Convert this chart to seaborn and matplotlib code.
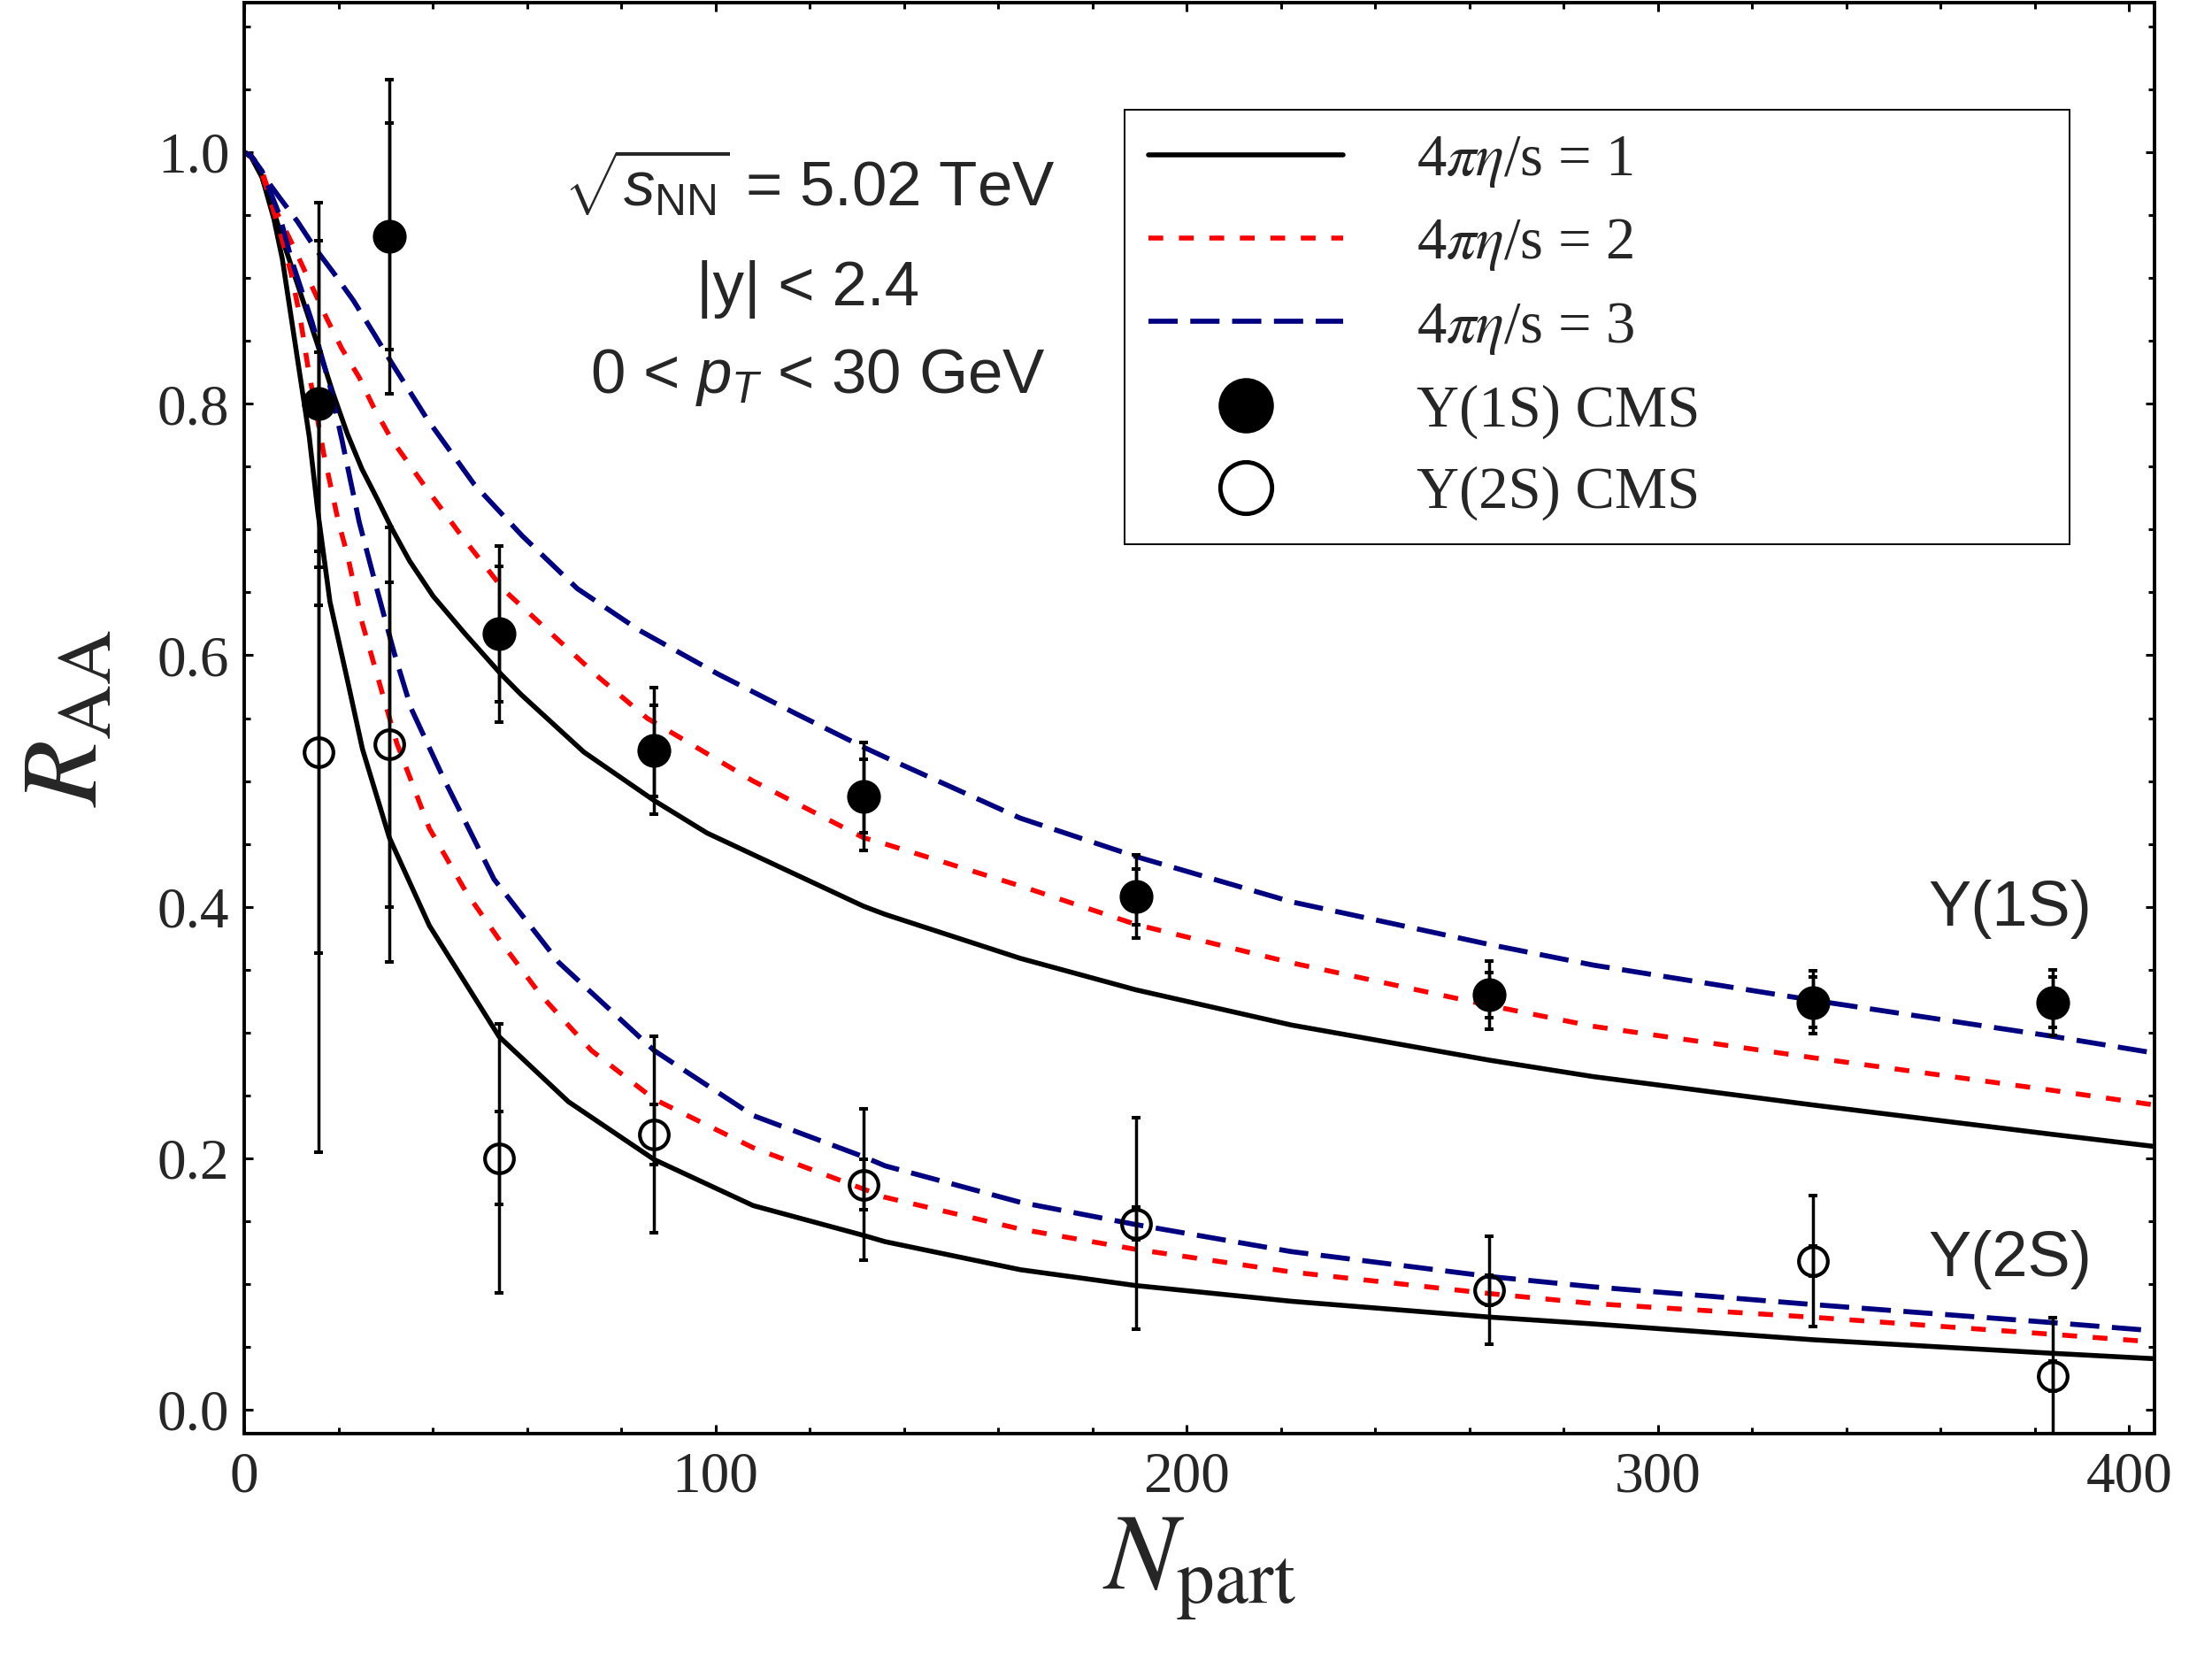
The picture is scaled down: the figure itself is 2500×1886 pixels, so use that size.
import numpy as np
import pandas as pd
import matplotlib
matplotlib.use("Agg")
import matplotlib.pyplot as plt
from matplotlib.lines import Line2D
import seaborn as sns

# data
npart = [15.8, 30.8, 54.1, 87.0, 131.5, 189.2, 264.2, 332.9, 383.9]

raa_1s = [0.800, 0.933, 0.617, 0.524, 0.488, 0.408, 0.330, 0.324, 0.324]
err_1s_tot = [0.16, 0.125, 0.07, 0.05, 0.043, 0.033, 0.027, 0.025, 0.026]
err_1s_in = [0.13, 0.09, 0.054, 0.036, 0.029, 0.022, 0.018, 0.02, 0.02]

raa_2s = [0.523, 0.529, 0.200, 0.219, 0.179, 0.148, 0.095, 0.1185, 0.027]
err_2s_tot = [0.318, 0.173, 0.107, 0.078, 0.06, 0.084, 0.043, 0.052, 0.046]
err_2s_in = [0.16, 0.129, 0.037, 0.024, 0.02, 0.013, 0.012, 0.012, 0.012]

# model curves, 4 pi eta/s = 1, 2, 3
y1s_eta1_x = [0, 1.5, 3.1, 5.6, 8.1, 10.6, 13.1, 15.6, 18.8, 21.9, 25.0, 28.2, 31.3, 35.1,
              40.1, 46.9, 54.5, 58.7, 72.1, 87.0, 98.2, 131.4, 136.0, 164.7, 189.2, 222.2,
              264.3, 286.2, 332.9, 383.8, 405.4]
y1s_eta1_y = [1.0, 0.997, 0.987, 0.9615, 0.931, 0.903, 0.875, 0.8466, 0.809, 0.776, 0.748,
              0.7246, 0.701, 0.675, 0.647, 0.617, 0.585, 0.569, 0.523, 0.4845, 0.4587,
              0.4005, 0.394, 0.359, 0.334, 0.306, 0.278, 0.265, 0.2424, 0.219, 0.2094]

y1s_eta2_x = [0, 1.5, 3.5, 6.3, 10.6, 17.5, 20.7, 24.4, 27.5, 31.3, 38.8, 46.3, 55.1, 65.4,
              75.4, 85.5, 92.3, 108, 131.4, 136, 164.7, 189.2, 222.2, 264.3, 286.2, 332.9,
              383.8, 405.4]
y1s_eta2_y = [1.0, 0.997, 0.988, 0.957, 0.924, 0.868, 0.844, 0.821, 0.797, 0.7715, 0.732,
              0.694, 0.652, 0.6165, 0.582, 0.55, 0.535, 0.500, 0.455, 0.450, 0.4166, 0.386,
              0.3555, 0.3215, 0.305, 0.280, 0.254, 0.2424]

y1s_eta3_x = [0, 1.5, 3.4, 7.5, 11.3, 15.0, 18.8, 23.2, 27.5, 31.3, 38.8, 48.8, 59.0, 70.7,
              83.8, 100.6, 117.4, 131.4, 136, 164.7, 189.2, 222.2, 264.3, 286.2, 332.9,
              383.8, 405.4]
y1s_eta3_y = [1.0, 0.997, 0.985, 0.964, 0.945, 0.924, 0.905, 0.882, 0.856, 0.8325, 0.788,
              0.736, 0.695, 0.653, 0.62, 0.585, 0.553, 0.527, 0.519, 0.4705, 0.440, 0.404,
              0.370, 0.3537, 0.3257, 0.297, 0.2837]

y2s_eta1_x = [0, 1.5, 3.8, 6.3, 8.1, 10.0, 11.9, 13.8, 15.6, 18.2, 21.8, 25.1, 30.8, 39.3,
              54.1, 68.8, 87.0, 108, 131.6, 136, 164.7, 189.2, 222.2, 264.3, 286.2, 332.9,
              383.8, 405.4]
y2s_eta1_y = [1.0, 0.996, 0.980, 0.947, 0.915, 0.868, 0.821, 0.774, 0.715, 0.6425, 0.582,
              0.5254, 0.455, 0.385, 0.2967, 0.245, 0.199, 0.1624, 0.1385, 0.1337, 0.1114,
              0.0988, 0.0863, 0.0737, 0.0683, 0.0557, 0.0449, 0.0406]

y2s_eta2_x = [0, 1.5, 3.8, 7.5, 10.0, 11.9, 13.5, 16.9, 20.0, 21.9, 25.1, 29.3, 32.4, 39.3,
              47.2, 54.1, 62.9, 73.7, 87.0, 108, 131.6, 136, 164.7, 189.2, 222.2, 264.3,
              286.2, 332.9, 383.8, 405.4]
y2s_eta2_y = [1.0, 0.997, 0.983, 0.938, 0.903, 0.868, 0.830, 0.76, 0.706, 0.680, 0.625,
              0.57, 0.53, 0.4623, 0.411, 0.374, 0.330, 0.2857, 0.247, 0.2084, 0.1753, 0.169,
              0.1437, 0.1276, 0.1096, 0.0924, 0.0845, 0.0736, 0.060, 0.0539]

y2s_eta3_x = [0, 1.5, 3.8, 7.5, 10.0, 14.4, 18.2, 20.7, 24.4, 28.2, 31.9, 35.4, 42.2, 53.0,
              66.8, 87.0, 108, 131.6, 136, 164.7, 189.2, 222.2, 264.3, 286.2, 332.9, 383.8,
              405.4]
y2s_eta3_y = [1.0, 0.997, 0.985, 0.95, 0.915, 0.865, 0.814, 0.772, 0.706, 0.652, 0.601,
              0.558, 0.503, 0.422, 0.3556, 0.2857, 0.234, 0.201, 0.194, 0.165, 0.1473,
              0.1258, 0.106, 0.0978, 0.0837, 0.0693, 0.0628]

legend_labels = [r"4$\pi\eta$/s = 1", r"4$\pi\eta$/s = 2", r"4$\pi\eta$/s = 3",
                 "\u03a5(1S) CMS", "\u03a5(2S) CMS"]

# styling
sns.set_theme(style="ticks")
plt.rcParams["font.family"] = ["Liberation Serif", "DejaVu Serif"]
plt.rcParams["mathtext.fontset"] = "custom"
plt.rcParams["mathtext.rm"] = "Liberation Sans"
plt.rcParams["mathtext.it"] = "Liberation Sans:italic"
plt.rcParams["mathtext.bf"] = "Liberation Sans:bold"

red = "#ff0000"
navy = "#000080"
styles = {
    1: dict(color="black", linestyle="-", linewidth=4.0),
    2: dict(color=red, linestyle=(0, (3.0, 3.2)), linewidth=4.0),
    3: dict(color=navy, linestyle=(0, (5.8, 2.5)), linewidth=4.1),
}

fig = plt.figure(figsize=(25, 18.86), dpi=100)
ax = fig.add_axes([0.1104, 0.141, 0.8636, 0.8574])

curves = [
    (y1s_eta1_x, y1s_eta1_y, 1), (y1s_eta2_x, y1s_eta2_y, 2), (y1s_eta3_x, y1s_eta3_y, 3),
    (y2s_eta1_x, y2s_eta1_y, 1), (y2s_eta2_x, y2s_eta2_y, 2), (y2s_eta3_x, y2s_eta3_y, 3),
]
for cx, cy, k in curves:
    df = pd.DataFrame({"x": cx, "y": cy})
    sns.lineplot(data=df, x="x", y="y", ax=ax, sort=False, estimator=None,
                 zorder=2, **styles[k])

# error bars: total with caps, inner ticks
eb = dict(fmt="none", ecolor="black", elinewidth=2.5, capsize=3.8, capthick=2.9, zorder=3)
ax.errorbar(npart, raa_1s, yerr=err_1s_tot, **eb)
ax.errorbar(npart, raa_1s, yerr=err_1s_in, **eb)
ax.errorbar(npart, raa_2s, yerr=err_2s_tot, **eb)
ax.errorbar(npart, raa_2s, yerr=err_2s_in, **eb)

ax.plot(npart, raa_1s, "o", ms=26.5, color="black", zorder=4)
ax.plot(npart, raa_2s, "o", ms=23.5, mfc="none", mec="black", mew=3.0, zorder=4)

ax.set_xlim(0, 405.4)
ax.set_ylim(-0.019, 1.119)
ax.set_xticks([0, 100, 200, 300, 400])
ax.set_xticks(np.arange(0, 405, 20), minor=True)
ax.set_yticks([0.0, 0.2, 0.4, 0.6, 0.8, 1.0])
ax.set_yticks(np.arange(0, 1.12, 0.05), minor=True)
ax.set_yticklabels(["0.0", "0.2", "0.4", "0.6", "0.8", "1.0"])
ax.tick_params(which="both", direction="in", top=True, right=True, width=2.2,
               color="black", labelsize=47)
ax.tick_params(which="major", length=7.5)
ax.tick_params(which="minor", length=5)
ax.tick_params(axis="x", pad=14)
ax.tick_params(axis="y", pad=12)
for sp in ax.spines.values():
    sp.set_linewidth(2.8)
    sp.set_color("black")

ax.set_xlabel(r"$N_{\mathrm{part}}$", fontsize=88, math_fontfamily="stix", labelpad=10)
ax.set_ylabel(r"$R_{\mathrm{AA}}$", fontsize=88, math_fontfamily="stix", labelpad=30)

sans = ["Liberation Sans", "DejaVu Sans"]
ax.text(120.0, 0.975, r"$\sqrt{s_{\mathrm{NN}}}$ = 5.02 TeV", fontsize=51,
        family=sans, ha="center", va="center")
ax.text(119.7, 0.891, "|y| < 2.4", fontsize=51, family=sans, ha="center", va="center")
ax.text(121.7, 0.821, r"0 < $p_T$ < 30 GeV", fontsize=51, family=sans,
        ha="center", va="center")
ax.text(374.8, 0.398, "\u03a5(1S)", fontsize=52, family=sans, ha="center", va="center")
ax.text(374.8, 0.119, "\u03a5(2S)", fontsize=52, family=sans, ha="center", va="center")

handles = [
    Line2D([], [], **styles[1]),
    Line2D([], [], **styles[2]),
    Line2D([], [], **styles[3]),
    Line2D([], [], marker="o", ls="none", ms=44, color="black"),
    Line2D([], [], marker="o", ls="none", ms=42, mfc="none", mec="black", mew=3.5),
]
leg = ax.legend(handles, legend_labels, loc="upper left",
                bbox_to_anchor=(0.461, 0.925, 0.4945, 0.0), mode="expand",
                fontsize=48, frameon=True, fancybox=False, edgecolor="black",
                framealpha=1, handlelength=3.3, handletextpad=1.24,
                labelspacing=0.47, borderpad=0.4, borderaxespad=0)
leg.get_frame().set_linewidth(1.4)
for t in leg.get_texts():
    t.set_math_fontfamily("stix")

fig.savefig("out.png", dpi=100)
